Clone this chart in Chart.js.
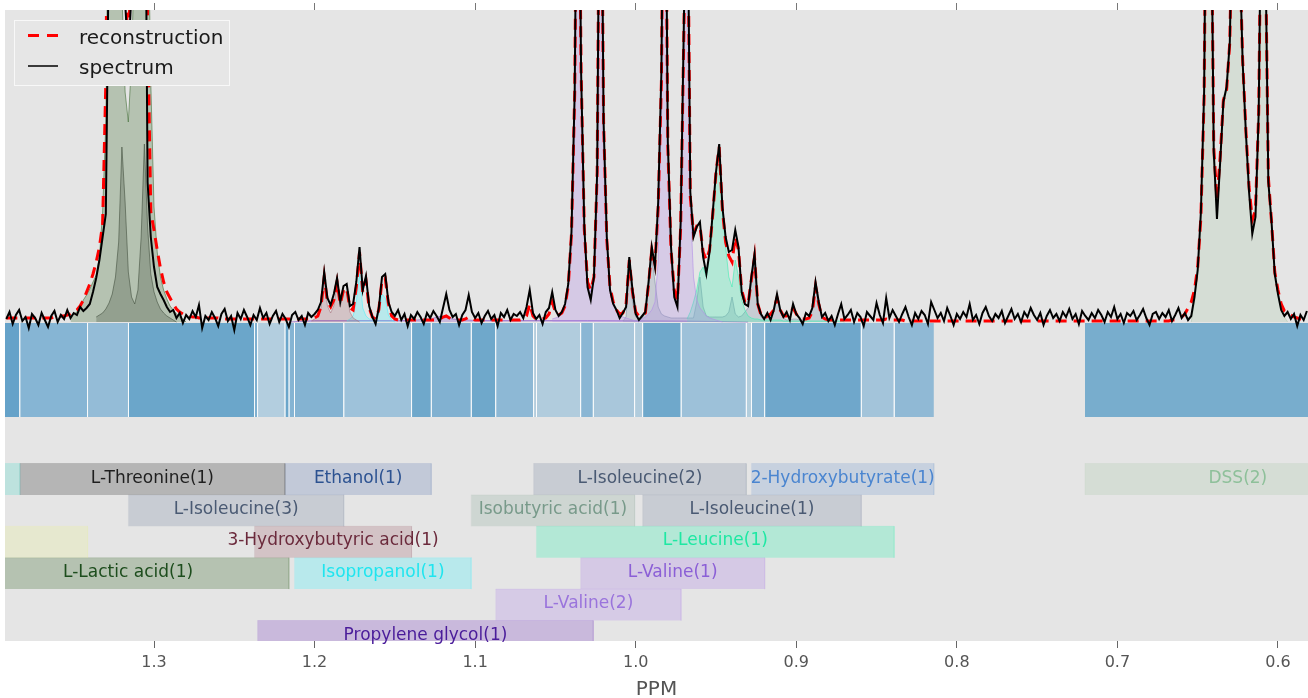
<!DOCTYPE html>
<html><head><meta charset="utf-8">
<script src="https://cdn.jsdelivr.net/npm/chart.js@4.4.1/dist/chart.umd.min.js"></script>
<style>html,body{margin:0;padding:0;background:#fff;}canvas{display:block;}</style>
</head><body>
<canvas id="c" width="1308" height="698"></canvas>
<script>
// ---------- DATA ----------
// spectrum sampled on a ppm grid: ppm = PPM_START - PPM_STEP * i
const PPM_START = 1.392, PPM_STEP = 0.002;
const X_LEFT = 1.3928, X_RIGHT = 0.5813;
const tickValues = [1.3, 1.2, 1.1, 1.0, 0.9, 0.8, 0.7, 0.6];

const spectrum = [
3,10,-2,7,12,1,5,-6,8,4,
-3,9,2,-5,6,11,0,7,3,12,
4,9,7,15,11,14,18,30,44,62,
85,108,400,700,900,800,500,320,265,330,
550,850,900,600,140,85,55,35,28,22,
15,10,12,4,9,-1,7,3,11,5,
17,-6,6,2,10,4,-4,8,13,1,
6,-8,9,3,12,5,-3,7,2,14,
4,9,-2,6,11,0,8,3,-5,7,
10,2,6,-3,9,5,8,12,20,50,
24,17,28,44,20,36,38,16,18,40,
75,32,46,16,5,-2,14,45,48,20,
10,6,12,2,8,-4,7,3,10,5,
-2,9,4,11,6,0,14,28,12,5,
8,-3,7,12,27,10,4,9,-1,6,
11,3,7,-4,9,5,12,2,8,6,
10,4,15,32,9,3,7,-2,10,14,
30,12,6,10,18,38,90,230,600,250,
95,35,22,45,150,600,200,85,32,18,
12,4,9,15,65,32,8,2,6,10,
40,75,55,120,250,600,180,75,25,15,
100,300,500,130,85,95,100,65,48,70,
110,150,178,115,85,70,72,92,75,30,
18,16,45,68,18,8,3,9,2,12,
28,12,5,10,2,18,8,4,-2,9,
6,14,40,20,5,9,1,6,-3,8,
18,3,7,12,0,9,5,-4,10,6,
2,19,7,-1,24,4,12,6,0,8,
15,5,-3,9,3,11,7,-2,20,12,
4,9,1,14,6,-3,8,3,10,5,
18,2,7,-2,9,15,6,1,8,4,
11,-1,6,13,3,8,0,10,5,14,
7,2,9,-3,6,12,4,8,1,10,
5,13,3,8,-2,11,6,2,9,4,
12,7,0,10,5,15,3,8,-1,9,
6,11,2,7,13,4,-3,8,10,3,
9,5,12,1,7,14,4,9,2,6,
25,52,110,230,600,500,170,103,160,220,
235,280,450,600,380,260,190,130,88,105,
210,500,400,140,100,48,28,12,6,10,
3,8,-4,7,2,11];

const reconstruction = [
4,4,4,4,4,4,4,4,4,4,
4,4,4,4,4,5,5,6,6,7,
8,10,12,16,22,30,38,48,60,75,
98,240,600,800,950,850,500,330,280,360,
600,900,950,700,300,110,92,72,54,40,
30,24,18,13,10,8,7,6,5,5,
4,4,4,4,4,4,4,3,3,3,
3,3,3,3,3,3,3,3,3,3,
3,3,3,3,3,3,3,3,3,3,
3,3,3,3,3,3,4,6,15,45,
20,15,22,40,18,32,34,14,12,35,
70,30,42,14,5,3,12,42,44,18,
6,3,2,2,2,2,2,2,2,2,
2,2,2,2,2,3,5,6,4,2,
2,2,2,3,5,4,2,2,2,2,
2,2,2,2,2,2,2,2,2,2,
2,3,6,18,6,3,3,3,4,8,
20,10,7,9,16,36,88,228,600,250,
92,40,32,45,150,600,200,82,35,20,
12,8,9,18,62,30,10,6,6,9,
38,72,58,115,240,600,175,72,32,22,
95,290,500,125,88,96,96,70,62,72,
108,150,175,112,80,66,60,85,72,32,
20,18,42,65,18,7,4,6,8,12,
24,12,6,6,8,14,8,4,3,3,
4,10,36,18,5,3,2,2,2,2,
2,2,2,2,2,2,2,2,2,2,
2,2,2,2,3,2,2,2,2,2,
1,1,1,1,1,1,1,1,1,1,
1,1,1,1,1,1,1,1,1,1,
1,1,1,1,1,1,1,1,1,1,
1,1,1,1,1,1,1,1,1,1,
1,1,1,1,1,1,1,1,1,1,
1,1,1,1,1,1,1,1,1,1,
1,1,1,1,1,1,1,1,1,1,
1,1,1,1,1,1,1,1,1,1,
1,1,1,2,2,3,5,8,14,20,
32,55,105,225,600,500,175,122,165,222,
232,280,450,600,380,262,192,135,102,112,
210,500,400,145,100,50,32,18,11,9,
7,5,4,3,3,3];

// fitted components (start index on the grid + values)
const lacticStart = 20;
const lacticFill = [6,8,10,16,22,27,33,40,47,65,110,200,500,700,600,450,330,230,200,260,380,550,700,650,450,240,115,70,45,32,23,16,12,8,5,3,0];
const threonineStart = 28;
const threonineFill = [5,7,9,13,19,28,45,80,175,120,50,25,18,32,85,178,95,48,30,20,13,9,6,4,2,0];
const hydroxybutyricStart = 95;
const hydroxybutyricFill = [1,3,6,14,42,16,9,16,38,15,30,30,10,4,2,0];
const isopropanolStart = 106;
const isopropanolFill = [1,3,6,20,48,14,6,3,3,4,9,28,24,7,2,0];
const valineAStart = 170;
const valineAFill = [3,4,5,9,16,35,88,228,600,250,92,40,30,45,150,600,200,82,35,20,12,8,5,4,3,2,1,0];
const valineBStart = 197;
const valineBFill = [1,3,5,8,12,20,60,230,600,175,70,32,25,70,280,500,120,45,22,14,10,6,4,3,2,1,0];
const leucineStart = 212;
const leucineFill = [3,10,20,32,50,55,45,68,108,150,172,110,75,45,35,62,45,22,12,6,4,3,3,2,2,2,2,2,2,2,1,1,1,1,1,1,1,1,1,1,1,1,1,1,1,1,1,1,1,0];
const isoleucineStart = 192;
const isoleucineFill = [1,5,55,20,5,3,4,10,35,65,40,15,8,6,5,4,4,4,4,4,4,4,4,20,45,15,6,5,5,5,5,5,6,10,25,8,5,6,10,14,40,62,15,5,3,4,8,12,26,10,4,2,2,3,3,2,2,3,5,12,36,16,4,1,0];
const dssStart = 369;
const dssFill = [0,20,45,100,220,600,500,180,122,170,225,235,280,450,600,380,260,190,130,102,115,210,500,400,150,100,55,32,14,5,0];
const propyleneFill = [[1.215,0],[1.20,1.5],[1.14,1.5],[1.128,3],[1.121,6],[1.114,3],[1.10,1.5],[1.03,1.5],[0.97,1],[0.93,0]];

// fitting bins (ppm edges) and their shades
const binEdges = [1.40,1.3836,1.3414,1.3159,1.2374,1.2355,1.2184,1.2159,1.2125,1.1818,1.1396,1.1273,1.1024,1.0872,1.0636,1.0618,1.0343,1.0264,1.0007,0.9957,0.9717,0.9311,0.9279,0.9197,0.8595,0.8390,0.8143];
const binColors = ['#65a2c9','#86b5d4','#94bcd7','#6ba6ca','#7fb0d0','#b3cedf','#6ba6ca','#85b4d3','#84b3d2','#9ec2da','#6fa8cb','#81b1d1','#6fa8cb','#8db8d5','#b1ccdd','#b1ccdd','#8ab6d4','#a9c7db','#b1ccdd','#6fa8cb','#9dc1d9','#b3cedd','#8cb8d5','#6fa7cb','#a3c4da','#90b9d5'];
const dssBin = [0.7202, 0.5298];
const dssBinColor = '#78adcd';

// metabolite label boxes
const labelNames = ['', 'L-Threonine(1)', 'Ethanol(1)', 'L-Isoleucine(2)', '2-Hydroxybutyrate(1)', 'DSS(2)',
  'L-Isoleucine(3)', 'Isobutyric acid(1)', 'L-Isoleucine(1)',
  '', '3-Hydroxybutyric acid(1)', 'L-Leucine(1)',
  'L-Lactic acid(1)', 'Isopropanol(1)', 'L-Valine(1)',
  'L-Valine(2)', 'Propylene glycol(1)'];
const labelFrom = [1.45,1.3836,1.2184,1.0636,0.9279,0.7202, 1.3159,1.1024,0.9957, 1.44,1.2374,1.0618, 1.4164,1.2125,1.0343, 1.0872, 1.2355];
const labelTo   = [1.3836,1.2184,1.1273,0.9311,0.8143,0.5298, 1.1818,1.0007,0.8595, 1.3414,1.1396,0.8390, 1.2159,1.1024,0.9197, 0.9717, 1.0264];
const labelRow  = [0,0,0,0,0,0, 1,1,1, 2,2,2, 3,3,3, 4, 5];

// ---------- STYLE ----------
const C = {
  cyan:[96,219,206], thr:[69,69,69], eth:[112,136,186], ile:[132,146,169], hbt:[129,162,209], dss:[176,202,176],
  iba:[152,179,166], yel:[232,239,155], hb3:[169,116,126], leu:[62,239,179], lac:[69,112,56], ipa:[79,242,252],
  val1:[176,136,229], val2:[179,142,232], pg:[136,82,199]
};
const labelBase = [C.cyan,C.thr,C.eth,C.ile,C.hbt,C.dss, C.ile,C.iba,C.ile, C.yel,C.hb3,C.leu, C.lac,C.ipa,C.val1, C.val2, C.pg];
const labelText = ['', '#1f1f1f','#2c5291','#4a5a73','#4a85d0','#8ec09a', '#4a5a73','#789a8a','#4a5a73', '','#6b2a3c','#1ee8a3', '#1d4d1d','#1fe5ef','#8b5fd6', '#9a74dc', '#4a1c9a'];
const rgba = (c, a) => `rgba(${c[0]},${c[1]},${c[2]},${a})`;

const BIN_TOP = -1, BIN_BOTTOM = -95;
const ROW_TOP0 = -141.5, ROW_H = 31.4;
const Y_MIN = -319, Y_MAX = 312;

// ---------- BUILD ----------
const gx = i => +(PPM_START - PPM_STEP * i).toFixed(4);
const gridPts = (start, vals) => vals.map((v, k) => ({x: gx(start + k), y: v}));
const rect = (l, r, top, bot) => [{x:l,y:bot},{x:l,y:top},{x:r,y:top},{x:r,y:bot}];

const datasets = [];
datasets.push({label:'spectrum', data: gridPts(0, spectrum), borderColor:'#000', borderWidth:2, fill:false, order:0, clip:0});
datasets.push({label:'reconstruction', data: gridPts(0, reconstruction), borderColor:'#ff0000', borderWidth:3, borderDash:[11,7], fill:false, order:1, clip:0});

const comps = [
  [gridPts(lacticStart, lacticFill), C.lac],
  [gridPts(threonineStart, threonineFill), C.thr],
  [gridPts(hydroxybutyricStart, hydroxybutyricFill), C.hb3],
  [gridPts(isopropanolStart, isopropanolFill), C.ipa],
  [gridPts(valineAStart, valineAFill), C.val1],
  [gridPts(valineBStart, valineBFill), C.val2],
  [gridPts(leucineStart, leucineFill), C.leu],
  [gridPts(isoleucineStart, isoleucineFill), C.ile],
  [gridPts(dssStart, dssFill), C.dss],
  [propyleneFill.map(p => ({x:p[0], y:p[1]})), C.pg]
];
comps.forEach(([pts, c]) => datasets.push({label:'', data: pts, borderColor: rgba(c,0.6), borderWidth:1,
  backgroundColor: rgba(c,0.3), fill:'origin', order:2, clip:0}));

labelNames.forEach((n, k) => {
  const top = ROW_TOP0 - ROW_H * labelRow[k], bot = top - ROW_H;
  datasets.push({label:'', data: rect(labelFrom[k], labelTo[k], top, bot), borderColor: rgba(labelBase[k],0.15),
    borderWidth:1, backgroundColor: rgba(labelBase[k],0.3), fill:{value: bot}, order:3, clip:0});
});

const sep = [];
binEdges.slice(1, -1).forEach(e => { sep.push({x:e,y:BIN_TOP},{x:e,y:BIN_BOTTOM},{x:e,y:null}); });
datasets.push({label:'', data: sep, borderColor:'rgba(255,255,255,0.55)', borderWidth:1, fill:false, spanGaps:false, order:3, clip:0});

binColors.forEach((col, k) => {
  datasets.push({label:'', data: rect(binEdges[k], binEdges[k+1], BIN_TOP, BIN_BOTTOM), borderWidth:0,
    backgroundColor: col, fill:{value: BIN_BOTTOM}, order:4, clip:0});
});
datasets.push({label:'', data: rect(dssBin[0], dssBin[1], BIN_TOP, BIN_BOTTOM), borderWidth:0,
  backgroundColor: dssBinColor, fill:{value: BIN_BOTTOM}, order:4, clip:0});

// ---------- PLUGINS ----------
const bgPlugin = {
  id:'bg',
  beforeDraw(chart) {
    const {ctx, chartArea:a} = chart;
    ctx.save(); ctx.fillStyle = '#ffffff'; ctx.fillRect(0,0,chart.width,chart.height);
    ctx.fillStyle = '#e5e5e5'; ctx.fillRect(a.left, a.top, a.right - a.left, a.bottom - a.top); ctx.restore();
  }
};
const labelPlugin = {
  id:'labels',
  afterDatasetsDraw(chart) {
    const {ctx, scales} = chart;
    ctx.save();
    ctx.font = '17px "DejaVu Sans"'; ctx.textAlign = 'center'; ctx.textBaseline = 'middle';
    labelNames.forEach((n, k) => {
      if (!n) return;
      const cx = scales.x.getPixelForValue((labelFrom[k] + labelTo[k]) / 2);
      const cy = scales.y.getPixelForValue(ROW_TOP0 - ROW_H * labelRow[k] - ROW_H / 2) - 1;
      ctx.fillStyle = labelText[k]; ctx.fillText(n, cx, cy);
    });
    // legend
    const items = [chart.data.datasets[1], chart.data.datasets[0]];
    ctx.fillStyle = '#e6e6e6'; ctx.strokeStyle = '#f8f8f8'; ctx.lineWidth = 1;
    ctx.fillRect(14.5, 20.5, 215, 65); ctx.strokeRect(14.5, 20.5, 215, 65);
    ctx.lineCap = 'butt';
    ctx.strokeStyle = '#ff0000'; ctx.lineWidth = 3; ctx.setLineDash([11,8]);
    ctx.beginPath(); ctx.moveTo(28, 35.5); ctx.lineTo(58, 35.5); ctx.stroke();
    ctx.setLineDash([]); ctx.strokeStyle = '#000'; ctx.lineWidth = 1.5;
    ctx.beginPath(); ctx.moveTo(28, 66); ctx.lineTo(58, 66); ctx.stroke();
    ctx.font = '20px "DejaVu Sans"'; ctx.textAlign = 'left'; ctx.textBaseline = 'alphabetic'; ctx.fillStyle = '#1a1a1a';
    ctx.fillText(items[0].label, 79, 44); ctx.fillText(items[1].label, 79, 73.5);
    ctx.restore();
  }
};

const setTicks = s => { s.ticks = tickValues.map(v => ({value: v})); };

new Chart(document.getElementById('c'), {
  type:'line',
  data:{datasets},
  options:{
    responsive:false, animation:false, events:[],
    layout:{padding:{left:5, right:0, top:0, bottom:0}},
    elements:{point:{radius:0, hoverRadius:0}, line:{tension:0}},
    plugins:{legend:{display:false}, tooltip:{enabled:false}},
    scales:{
      x:{type:'linear', position:'bottom', reverse:true, min:X_RIGHT, max:X_LEFT,
        border:{display:false},
        grid:{drawOnChartArea:false, drawTicks:true, tickLength:7, color:'#666', tickWidth:1},
        afterBuildTicks: setTicks,
        ticks:{autoSkip:false, maxRotation:0, padding:5, color:'#555', font:{family:'DejaVu Sans', size:16},
          callback: v => Number(v).toFixed(1)},
        title:{display:true, text:'PPM', color:'#555', font:{family:'DejaVu Sans', size:20, lineHeight:0.85}, padding:0},
        afterFit: s => { s.height = 57; }
      },
      xTop:{type:'linear', position:'top', reverse:true, min:X_RIGHT, max:X_LEFT,
        border:{display:false},
        grid:{drawOnChartArea:false, drawTicks:true, tickLength:7, color:'#777'},
        afterBuildTicks: setTicks,
        ticks:{display:false},
        afterFit: s => { s.height = 10; }
      },
      y:{display:false, min:Y_MIN, max:Y_MAX}
    }
  },
  plugins:[bgPlugin, labelPlugin]
});
</script>
</body></html>
